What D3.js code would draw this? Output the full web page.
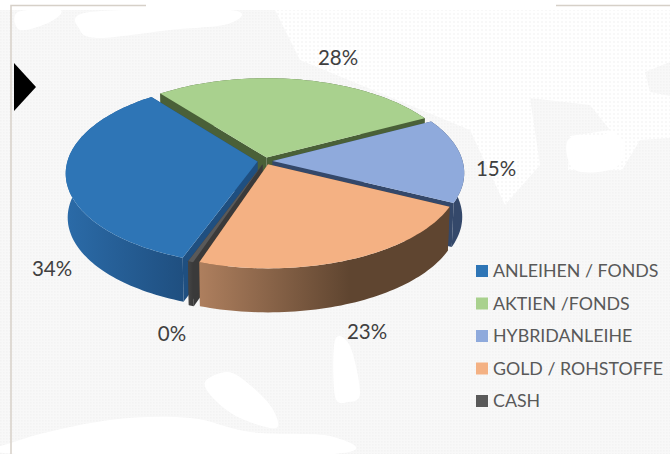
<!DOCTYPE html>
<html lang="en">
<head>
<meta charset="UTF-8">
<title>Portfolio pie</title>
<script src="https://d3js.org/d3.v7.min.js"></script>
<style>
    html, body { margin: 0; padding: 0; background: #fff; }
    svg { display: block; }
    text { font-family: Lato, "Open Sans", sans-serif; }
</style>
</head>
<body>
<svg id="chart" width="670" height="454"></svg>
<script>
    const categories = ["ANLEIHEN / FONDS", "AKTIEN /FONDS", "HYBRIDANLEIHE", "GOLD / ROHSTOFFE", "CASH"];
    const values = [34, 28, 15, 23, 0.4];
    const topColors = ["#2e75b6", "#a9d18e", "#8faadc", "#f4b183", "#595959"];
    const wallFrom = ["#2b6ba8", "#4a6038", "#34486a", "#ae7f5e", "#454545"];
    const wallTo = ["#1f4f80", "#4a6038", "#34486a", "#5f4530", "#3a3a3a"];

    const svg = d3.select("#chart");
    const defs = svg.append("defs");

    // background: faint dotted world map
    const dots = defs.append("pattern").attr("id", "dots")
        .attr("width", 4).attr("height", 4).attr("patternUnits", "userSpaceOnUse");
    dots.append("rect").attr("width", 4).attr("height", 4).attr("fill", "#fff");
    dots.append("circle").attr("cx", 2).attr("cy", 2).attr("r", 0.9).attr("fill", "#f6f6f6");

    const land = defs.append("pattern").attr("id", "land")
        .attr("width", 3).attr("height", 3).attr("patternUnits", "userSpaceOnUse");
    land.append("rect").attr("width", 3).attr("height", 3).attr("fill", "#f8f8f8");
    land.append("rect").attr("width", 1.5).attr("height", 1.5).attr("fill", "#f3f3f3");

    svg.append("rect").attr("x", 0).attr("y", 10).attr("width", 670).attr("height", 444).attr("fill", "url(#land)");

    const dotShapes = [
        [[275, 10], [670, 10], [670, 62], [645, 72], [650, 92], [670, 96], [670, 138], [640, 140], [622, 170], [568, 170], [570, 136], [610, 130], [590, 105], [530, 98], [540, 165], [505, 205], [470, 130], [300, 60]]
    ];
    const whiteShapes = [
        [[205, 382], [228, 372], [250, 385], [272, 408], [276, 428], [240, 418], [215, 400]],
        [[20, 440], [110, 420], [190, 418], [250, 432], [330, 436], [330, 454], [20, 454]],
        [[335, 340], [350, 346], [360, 393], [348, 402], [335, 396]],
        [[568, 140], [600, 136], [612, 132], [625, 145], [615, 168], [575, 170]],
        [[18, 12], [60, 10], [50, 22], [20, 30]],
        [[90, 12], [230, 10], [228, 24], [170, 30], [100, 38], [80, 30]]
    ];
    svg.selectAll("path.sea").data(dotShapes).join("path").attr("class", "sea")
        .attr("d", function (d) { return d3.line()(d) + "Z"; }).attr("fill", "url(#dots)");
    svg.selectAll("path.white").data(whiteShapes).join("path").attr("class", "white")
        .attr("d", d3.line().curve(d3.curveCardinalClosed)).attr("fill", "#fff");

    // frame and marker
    const frame = svg.append("g").attr("stroke", "#d6d0c8").attr("stroke-width", 1.5).attr("fill", "none");
    frame.append("path").attr("d", d3.line()([[11, 454], [11, 5.5], [146, 5.5]]));
    frame.append("path").attr("d", d3.line()([[556, 5.5], [670, 5.5]]));
    svg.append("path").attr("d", d3.line()([[14, 63], [36, 87], [14, 111]])).attr("fill", "#000");

    // pie geometry: disc in perspective
    const cx = 265, cy = 161, R = 190, ratio = 0.474, persp = 0.1257, depth = 44, explode = 0.04;

    function project(u, v, z) {
        const s = 1 / (1 - persp * v);
        return [cx + R * u * s * (1 - 0.01 * z), cy + R * ratio * v * s + depth * z];
    }

    const startDeg = 200;
    const pie = d3.pie().sort(null).startAngle(startDeg * Math.PI / 180).endAngle((startDeg + 360) * Math.PI / 180);
    const arcs = pie(values).map(function (d, i) {
        const mid = (d.startAngle + d.endAngle) / 2;
        return {
            i: i, a0: d.startAngle, a1: d.endAngle,
            ox: explode * Math.sin(mid), oy: -explode * Math.cos(mid)
        };
    });

    function rim(d, z) {
        const n = Math.max(2, Math.ceil((d.a1 - d.a0) * 40));
        return d3.range(n + 1).map(function (k) {
            const a = d.a0 + (d.a1 - d.a0) * k / n;
            return project(d.ox + Math.sin(a), d.oy - Math.cos(a), z);
        });
    }

    const line = d3.line();

    // back slices first, orange sits in front of everything
    const drawOrder = [1, 2, 0, 4, 3];
    drawOrder.forEach(function (idx) {
        const d = arcs[idx];
        const g = svg.append("g");
        const top = rim(d, 0), bottom = rim(d, 1);
        const apexTop = project(d.ox, d.oy, 0), apexBottom = project(d.ox, d.oy, 1);

        const xs = top.map(function (p) { return p[0]; });
        const grad = defs.append("linearGradient").attr("id", "wall" + d.i)
            .attr("gradientUnits", "userSpaceOnUse")
            .attr("x1", d3.min(xs)).attr("x2", d.i === 3 ? d3.min(xs) + 150 : d3.max(xs))
            .attr("y1", 0).attr("y2", 0);
        grad.append("stop").attr("offset", 0).attr("stop-color", wallFrom[d.i]);
        grad.append("stop").attr("offset", 1).attr("stop-color", wallTo[d.i]);

        // cut faces
        g.append("path").attr("d", line([apexTop, top[0], bottom[0], apexBottom]) + "Z").attr("fill", wallTo[d.i]);
        g.append("path").attr("d", line([apexTop, top[top.length - 1], bottom[bottom.length - 1], apexBottom]) + "Z").attr("fill", wallTo[d.i]);
        // outer wall
        g.append("path").attr("d", line(top.concat(bottom.slice().reverse())) + "Z").attr("fill", "url(#wall" + d.i + ")");
        // top face
        g.append("path").attr("d", line([apexTop].concat(top)) + "Z").attr("fill", topColors[d.i]);
    });

    // data labels
    const labelPos = [[52, 269], [338, 58], [496, 169], [367, 332], [172, 334]];
    const pct = d3.format(".0%");
    svg.selectAll("text.lab").data(values).join("text").attr("class", "lab")
        .attr("x", function (d, i) { return labelPos[i][0]; })
        .attr("y", function (d, i) { return labelPos[i][1]; })
        .attr("dy", "0.35em").attr("text-anchor", "middle")
        .attr("font-size", 20.5).attr("fill", "#404040")
        .text(function (d) { return pct(d / 100); });

    // legend
    const legendY = d3.scalePoint().domain(categories).range([271, 401]);
    const legend = svg.selectAll("g.leg").data(categories).join("g").attr("class", "leg")
        .attr("transform", function (d) { return "translate(476," + legendY(d) + ")"; });
    legend.append("rect").attr("y", -6).attr("width", 12).attr("height", 12)
        .attr("fill", function (d, i) { return topColors[i]; });
    legend.append("text").attr("x", 17).attr("dy", "0.35em")
        .attr("font-size", 17.8).attr("fill", "#595959")
        .text(function (d) { return d; });
</script>
</body>
</html>
